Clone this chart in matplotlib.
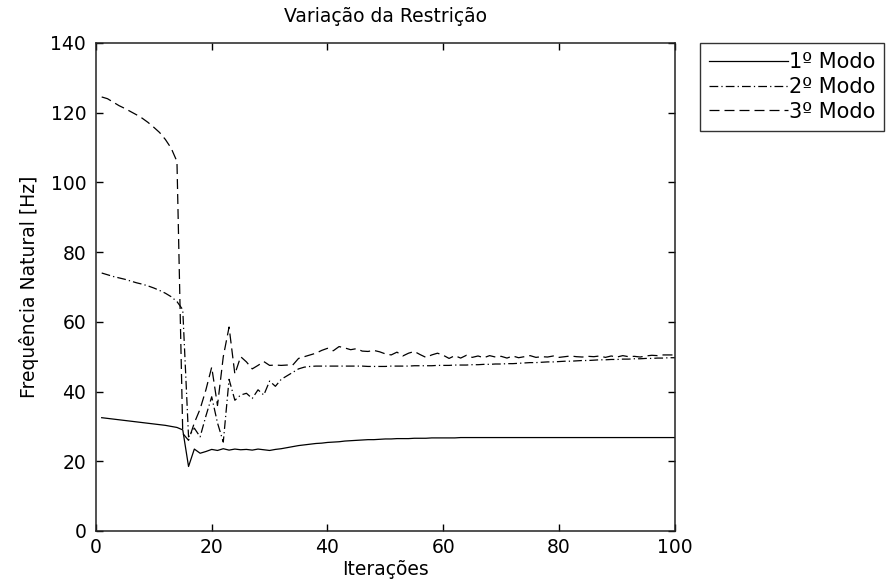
import matplotlib
matplotlib.use("Agg")
import matplotlib.pyplot as plt

# iteracoes 1..100
iteracoes = list(range(1, 101))

modo1 = [32.5, 32.3, 32.1, 31.9, 31.7, 31.5, 31.3, 31.1, 30.9, 30.7,
         30.5, 30.3, 30.0, 29.7, 29.0, 18.5, 23.5, 22.3, 22.8, 23.4,
         23.1, 23.6, 23.2, 23.5, 23.3, 23.4, 23.2, 23.5, 23.3, 23.1,
         23.4, 23.6, 23.9, 24.2, 24.5, 24.7, 24.9, 25.1, 25.2, 25.4,
         25.5, 25.6, 25.8, 25.9, 26.0, 26.1, 26.2, 26.2, 26.3, 26.4,
         26.4, 26.5, 26.5, 26.5, 26.6, 26.6, 26.6, 26.7, 26.7, 26.7,
         26.7, 26.7, 26.8, 26.8, 26.8, 26.8, 26.8, 26.8, 26.8, 26.8,
         26.8, 26.8, 26.8, 26.8, 26.8, 26.8, 26.8, 26.8, 26.8, 26.8,
         26.8, 26.8, 26.8, 26.8, 26.8, 26.8, 26.8, 26.8, 26.8, 26.8,
         26.8, 26.8, 26.8, 26.8, 26.8, 26.8, 26.8, 26.8, 26.8, 26.8]

modo2 = [74.0, 73.5, 73.0, 72.6, 72.2, 71.7, 71.2, 70.8, 70.3, 69.7,
         69.0, 68.2, 67.2, 65.8, 63.5, 27.0, 29.5, 27.0, 33.0, 38.5,
         31.0, 25.5, 43.5, 37.5, 39.0, 39.5, 38.0, 40.5, 39.0, 43.0,
         41.5, 43.5, 44.5, 45.5, 46.5, 47.0, 47.2, 47.3, 47.3, 47.3,
         47.3, 47.3, 47.3, 47.3, 47.3, 47.3, 47.2, 47.2, 47.2, 47.2,
         47.3, 47.3, 47.3, 47.3, 47.4, 47.4, 47.4, 47.4, 47.5, 47.5,
         47.5, 47.6, 47.6, 47.6, 47.7, 47.7, 47.8, 47.8, 47.9, 47.9,
         48.0, 48.0, 48.1, 48.2, 48.3, 48.3, 48.4, 48.5, 48.5, 48.6,
         48.7, 48.7, 48.8, 48.9, 48.9, 49.0, 49.1, 49.1, 49.2, 49.2,
         49.3, 49.3, 49.4, 49.4, 49.5, 49.5, 49.6, 49.6, 49.7, 49.7]

modo3 = [124.5, 124.0, 123.0, 122.0, 121.2, 120.3, 119.4, 118.4, 117.2, 115.8,
         114.3, 112.3, 109.8, 106.0, 28.0, 26.0, 31.0, 35.0, 40.5, 47.0,
         36.0, 50.0, 58.5, 45.0, 50.0, 48.5, 46.5, 47.5, 48.6, 47.5,
         47.6, 47.5, 47.6, 47.6, 49.5, 50.0, 50.5, 51.0, 51.8, 52.4,
         51.7, 52.9, 52.5, 52.0, 52.3, 51.6, 51.5, 51.8, 51.4, 50.8,
         50.5, 51.3, 50.2, 51.0, 51.5, 50.6, 49.8, 50.5, 51.0, 50.4,
         49.5, 50.3, 49.6, 50.4, 49.8, 50.2, 49.7, 50.3, 49.9, 50.1,
         49.6, 50.2, 49.7, 50.0, 50.3, 49.8, 50.0, 49.9, 50.2, 49.8,
         50.0, 50.2, 50.0, 49.9, 50.1, 50.0, 50.2, 49.8, 50.2, 49.9,
         50.3, 50.0, 50.1, 49.9, 50.2, 50.4, 50.3, 50.5, 50.5, 50.5]

rotulos = ["1º Modo", "2º Modo", "3º Modo"]

plt.rcParams['font.family'] = ['DejaVu Sans']
plt.rcParams['font.size'] = 13.5

fig = plt.figure(figsize=(8.88, 5.8), dpi=100)
ax = fig.add_axes([0.108, 0.0845, 0.652, 0.8415])

ax.plot(iteracoes, modo1, color='black', lw=0.9, ls='-', label=rotulos[0])
ax.plot(iteracoes, modo2, color='black', lw=0.9, ls=(0, (7, 2.5, 1, 2.5)), label=rotulos[1])
ax.plot(iteracoes, modo3, color='black', lw=0.9, ls=(0, (8, 4)), label=rotulos[2])

ax.set_xlim(0, 100)
ax.set_ylim(0, 140)
ax.set_xticks([0, 20, 40, 60, 80, 100])
ax.set_yticks([0, 20, 40, 60, 80, 100, 120, 140])
ax.tick_params(direction='in', top=True, right=True, length=5, width=1)
ax.tick_params(axis='x', pad=5)
ax.tick_params(axis='y', pad=7)
for s in ax.spines.values():
    s.set_linewidth(1.1)
    s.set_color('#222222')

ax.set_title("Variação da Restrição", fontsize=13.5, pad=15)
ax.set_xlabel("Iterações", labelpad=2)
ax.set_ylabel("Frequência Natural [Hz]", labelpad=8)

# legenda fora do eixo, cortada na borda direita como no original
leg = fig.legend(loc='upper left', bbox_to_anchor=(700 / 888, 1 - 43 / 580),
                 frameon=True, fancybox=False, edgecolor='black', fontsize=15,
                 handlelength=3.75, handletextpad=0.05, borderpad=0.45,
                 labelspacing=0.22, borderaxespad=0)
leg.get_frame().set_linewidth(1.0)

fig.savefig('out.png', dpi=100)
